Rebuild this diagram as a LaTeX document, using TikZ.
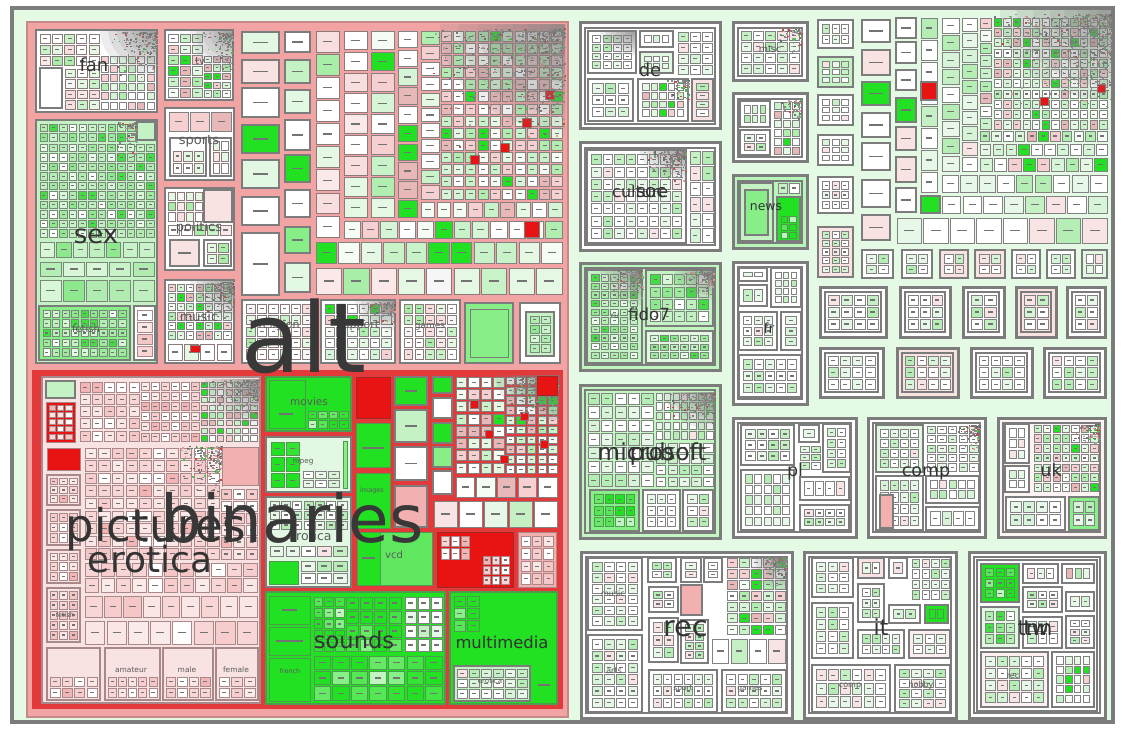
\documentclass[tikz,border=0pt]{standalone}
\usepackage{fontspec}
\setmainfont{DejaVu Sans}
\definecolor{bgG}{HTML}{E4FAE4}
\definecolor{frameG}{HTML}{7C7C7C}
\definecolor{altP}{HTML}{F2A4A4}
\definecolor{altE}{HTML}{C88888}
\definecolor{binR}{HTML}{E23A3A}
\definecolor{txt}{HTML}{333333}
\definecolor{txtL}{HTML}{5A5A5A}
\definecolor{Gb}{HTML}{22E022}
\definecolor{Gm}{HTML}{88EE88}
\definecolor{Gl}{HTML}{C4F2C4}
\definecolor{Gvl}{HTML}{E2F8E2}
\definecolor{Pl}{HTML}{F9E2E2}
\definecolor{Pm}{HTML}{F2B0B0}
\definecolor{Rd}{HTML}{E81414}
% palette a : alt, mixed pale
\definecolor{a0}{HTML}{FFFFFF}\definecolor{a1}{HTML}{FFFFFF}\definecolor{a2}{HTML}{E4F8E4}
\definecolor{a3}{HTML}{C8F2C8}\definecolor{a4}{HTML}{F8DEDE}\definecolor{a5}{HTML}{FFFFFF}
\definecolor{a6}{HTML}{A8EEA8}\definecolor{a7}{HTML}{F6F6F6}\definecolor{a8}{HTML}{E4F8E4}
\definecolor{a9}{HTML}{FBE8E8}\definecolor{aB}{HTML}{8A7A7A}
% palette s : green
\definecolor{s0}{HTML}{C8F2C8}\definecolor{s1}{HTML}{B4EEB4}\definecolor{s2}{HTML}{A0EAA0}
\definecolor{s3}{HTML}{D8F6D8}\definecolor{s4}{HTML}{C0F0C0}\definecolor{s5}{HTML}{8EE88E}
\definecolor{s6}{HTML}{44DD44}\definecolor{s7}{HTML}{E8FAE8}\definecolor{s8}{HTML}{B0ECB0}
\definecolor{s9}{HTML}{FFFFFF}\definecolor{sB}{HTML}{7A8A7A}
% palette p : pink
\definecolor{p0}{HTML}{FBE6E6}\definecolor{p1}{HTML}{F8D6D6}\definecolor{p2}{HTML}{FFFFFF}
\definecolor{p3}{HTML}{F4C6C6}\definecolor{p4}{HTML}{FBE6E6}\definecolor{p5}{HTML}{F8D6D6}
\definecolor{p6}{HTML}{F2B4B4}\definecolor{p7}{HTML}{FFFFFF}\definecolor{p8}{HTML}{FBEAEA}
\definecolor{p9}{HTML}{F6CCCC}\definecolor{pB}{HTML}{A88888}
% palette r : right side pale
\definecolor{r0}{HTML}{FFFFFF}\definecolor{r1}{HTML}{FFFFFF}\definecolor{r2}{HTML}{E8F8E8}
\definecolor{r3}{HTML}{D8F4D8}\definecolor{r4}{HTML}{FFFFFF}\definecolor{r5}{HTML}{F8E4E4}
\definecolor{r6}{HTML}{C4F0C4}\definecolor{r7}{HTML}{FFFFFF}\definecolor{r8}{HTML}{E8F8E8}
\definecolor{r9}{HTML}{B4EEB4}\definecolor{rB}{HTML}{828282}
% palette g : bright green
\definecolor{g0}{HTML}{22E022}\definecolor{g1}{HTML}{33E433}\definecolor{g2}{HTML}{55E855}
\definecolor{g3}{HTML}{22E022}\definecolor{g4}{HTML}{88F088}\definecolor{g5}{HTML}{22E022}
\definecolor{g6}{HTML}{C0F4C0}\definecolor{g7}{HTML}{22E022}\definecolor{g8}{HTML}{44E444}
\definecolor{g9}{HTML}{66EA66}\definecolor{gB}{HTML}{4E9A4E}
% palette m : mixed
\definecolor{m0}{HTML}{FFFFFF}\definecolor{m1}{HTML}{D6F4D6}\definecolor{m2}{HTML}{22E022}
\definecolor{m3}{HTML}{F6D0D0}\definecolor{m4}{HTML}{F4FCF4}\definecolor{m5}{HTML}{B0EEB0}
\definecolor{m6}{HTML}{E8B8B8}\definecolor{m7}{HTML}{FFFFFF}\definecolor{m8}{HTML}{E4F8E4}
\definecolor{m9}{HTML}{C8F2C8}\definecolor{mB}{HTML}{828282}
% noise
\definecolor{n0}{HTML}{777777}\definecolor{n1}{HTML}{888888}\definecolor{n2}{HTML}{999999}
\definecolor{n3}{HTML}{777777}\definecolor{n4}{HTML}{AAAAAA}\definecolor{n5}{HTML}{44CC44}
\definecolor{n6}{HTML}{CC4444}\definecolor{n7}{HTML}{888888}\definecolor{n8}{HTML}{EE9999}
\definecolor{n9}{HTML}{666666}

% one cell: x y w h palette
\newcommand\cb[5]{%
  \pgfmathrandominteger{\rr}{0}{9}%
  \colorlet{cc}{#5\rr}%
  \draw[draw=#5B,line width=0.7pt,fill=cc] ({#1},{#2}) rectangle ({(#1)+(#3)},{(#2)+(#4)});%
  \pgfmathtruncatemacro\dd{and((#3)>7,(#4)>6)}%
  \ifnum\dd=1 \draw[dk] ({(#1)+0.3*(#3)},{(#2)+0.5*(#4)}) -- ({(#1)+0.7*(#3)},{(#2)+0.5*(#4)});\fi}
% grid of cells: x1 y1 x2 y2 step palette
\newcommand\fg[6]{%
  \pgfmathtruncatemacro\nx{max(1,round(((#3)-(#1))/(#5)))}%
  \pgfmathtruncatemacro\ny{max(1,round(((#4)-(#2))/(#5)))}%
  \pgfmathsetmacro\sx{((#3)-(#1))/\nx}%
  \pgfmathsetmacro\sy{((#4)-(#2))/\ny}%
  \pgfmathsetmacro\ox{#1}\pgfmathsetmacro\oy{#2}%
  \foreach \i in {1,...,\nx}{\foreach \j in {1,...,\ny}{%
    \cb{\ox+(\i-1)*\sx+1.1}{\oy+(\j-1)*\sy+1.1}{\sx-2.2}{\sy-2.2}{#6}}}}
% noise specks, dense towards the upper right
\newcommand\nz[5]{%
  \foreach \k in {1,...,#5}{%
    \pgfmathsetmacro\px{(#3)-((#3)-(#1))*rnd*rnd}%
    \pgfmathsetmacro\py{(#2)+((#4)-(#2))*rnd*rnd}%
    \pgfmathrandominteger{\rr}{0}{9}%
    \colorlet{cc}{n\rr}%
    \fill[cc] (\px,\py) rectangle ++(1.8,1.4);}}
% gray haze in the upper right corner of a box: x1 y1 x2 y2
\newcommand\hz[4]{%
  \begin{scope}
  \clip (#1,#2) rectangle (#3,#4);
  \foreach \t in {1,0.85,0.7,0.55,0.42,0.3,0.2,0.12}{%
    \fill[gray,opacity=0.14] (#3,#2) ellipse [x radius={((#3)-(#1))*\t}, y radius={((#4)-(#2))*\t}];}
  \end{scope}}
% framed box with grid inside
\newcommand\bx[7]{\draw[kid,fill=#5] (#1,#2) rectangle (#3,#4);
  \fg{(#1)+3.5}{(#2)+3.5}{(#3)-3.5}{(#4)-3.5}{#6}{#7}}
% top level group with double frame
\newcommand\grp[5]{\draw[grpo,fill=#5] (#1,#2) rectangle (#3,#4);
  \draw[draw=frameG,line width=1.4pt] ({(#1)+5},{(#2)+5}) rectangle ({(#3)-5},{(#4)-5});}

\begin{document}
\begin{tikzpicture}[x=1pt,y=-1pt,
  lbl/.style={text=txt,inner sep=0pt,anchor=base},
  sml/.style={text=txtL,inner sep=0pt,anchor=base},
  kid/.style={draw=frameG,line width=1.6pt},
  grpo/.style={draw=frameG,line width=3pt},
  dk/.style={draw=black!55,line width=1.1pt}]
\pgfmathsetseed{11}
\useasboundingbox (0,0) rectangle (1123,730);
\fill[white] (0,0) rectangle (1123,730);
\draw[fill=bgG,draw=frameG,line width=3.5pt] (12,8) rectangle (1113,722);

%% ================= ALT =================
\draw[fill=altP,draw=altE,line width=2pt] (27,22) rectangle (568,717);

% fan
\draw[kid,fill=white] (36,30) rectangle (157,112);
\fg{39}{33}{100}{66}{13}{a}
\draw[kid,fill=white] (40,68) rectangle (62,108);
\fg{64}{68}{100}{110}{12}{a}
\fg{100}{55}{155}{110}{9}{m}
\nz{100}{32}{156}{80}{160}
\hz{100}{31}{156}{75}
% sex
\draw[kid,fill=Gl] (36,120) rectangle (157,363);
\fg{39}{123}{136}{142}{10}{s}
\draw[kid,fill=Gl] (137,122) rectangle (155,140);
\fg{39}{143}{155}{238}{10}{s}
\nz{110}{122}{136}{160}{60}
\fg{39}{241}{155}{258}{17}{s}
\fg{39}{261}{155}{277}{23}{s}
\fg{39}{279}{155}{302}{24}{s}
\draw[kid,fill=Gm] (39,306) rectangle (130,360);
\fg{42}{309}{127}{357}{9}{s}
\draw[kid,fill=white] (134,306) rectangle (155,360);
\fg{136}{309}{153}{357}{12}{p}
% tv
\draw[kid,fill=white] (165,30) rectangle (233,100);
\fg{167}{33}{203}{98}{11}{m}
\fg{203}{55}{231}{98}{9}{m}
\nz{200}{32}{232}{70}{100}
\hz{190}{31}{232}{70}
% sports
\draw[kid,fill=white] (165,108) rectangle (234,180);
\fg{168}{111}{232}{132}{21}{m}
\draw[kid,fill=white] (170,138) rectangle (206,176);
\fg{172}{150}{204}{174}{11}{a}
\draw[kid,fill=white] (210,138) rectangle (231,176);
\fg{212}{140}{229}{174}{11}{a}
% politics
\draw[kid,fill=white] (165,188) rectangle (234,270);
\fg{167}{191}{203}{222}{10}{a}
\draw[kid,fill=Pl] (204,190) rectangle (232,222);
\fg{167}{224}{232}{236}{13}{a}
\draw[kid,fill=Pl] (170,240) rectangle (199,266);
\draw[dk] (178,253) -- (191,253);
\draw[kid,fill=white] (204,240) rectangle (231,266);
\fg{206}{242}{229}{264}{11}{a}
% music
\draw[kid,fill=white] (165,280) rectangle (234,363);
\fg{167}{283}{232}{340}{9}{m}
\fg{167}{343}{232}{361}{16}{a}
\draw[draw=aB,fill=Rd] (190,345) rectangle (200,352);
\nz{195}{282}{233}{320}{120}
\hz{190}{281}{233}{320}

% grid columns of alt
\foreach \ya/\yb/\cc in {32/53/Gvl,60/83/Pl,88/117/white,125/153/Gb,160/188/Gvl,197/225/white,233/295/white}{
  \draw[kid,fill=\cc] (242,\ya) rectangle (279,\yb);
  \draw[dk] (253,{(\ya+\yb)/2}) -- (268,{(\ya+\yb)/2});}
\foreach \ya/\yb/\cc in {32/52/white,60/83/Gl,90/113/Gvl,120/150/white,155/182/Gb,190/217/white,227/253/Gm,263/292/Gvl}{
  \draw[kid,fill=\cc] (285,\ya) rectangle (310,\yb);
  \draw[dk] (292,{(\ya+\yb)/2}) -- (303,{(\ya+\yb)/2});}
\fg{315}{30}{340}{238}{24}{a}
\fg{343}{30}{368}{218}{22}{a}
\fg{370}{30}{395}{218}{20}{m}
\fg{397}{30}{418}{218}{18}{m}
\fg{420}{30}{440}{200}{16}{m}
\fg{440}{30}{563}{200}{12}{m}
\foreach \cx/\cy in {500/143,470/155,522/118,545/90}{
  \draw[draw=aB,fill=Rd] (\cx,\cy) rectangle ++(9,9);}
\nz{420}{28}{564}{150}{450}
\hz{440}{25}{565}{130}
\fg{420}{201}{563}{218}{16}{m}
\fg{343}{220}{563}{239}{19}{m}
\draw[draw=aB,fill=Rd] (524,221) rectangle (539,237);
\fg{315}{241}{563}{264}{22}{m}
\fg{315}{267}{563}{295}{27}{a}
% bottom row of alt
\draw[kid,fill=white] (242,300) rectangle (316,363);
\fg{245}{303}{313}{360}{12}{a}
\draw[kid,fill=white] (321,300) rectangle (395,363);
\fg{324}{303}{392}{360}{11}{m}
\nz{360}{302}{394}{330}{100}
\hz{355}{301}{394}{330}
\draw[kid,fill=white] (400,300) rectangle (460,363);
\fg{403}{303}{457}{360}{12}{a}
\draw[kid,fill=Gm] (465,303) rectangle (513,363);
\draw[draw=frameG,line width=1pt] (470,309) rectangle (508,357);
\draw[kid,fill=white] (520,303) rectangle (560,363);
\draw[kid,fill=Gl] (526,312) rectangle (554,356);
\fg{529}{315}{551}{353}{9}{s}

%% ================= BINARIES =================
\draw[draw=binR,line width=4pt,fill=binR] (34,372) rectangle (561,707);
% pictures / erotica area
\draw[draw=pB,line width=1.5pt,fill=Pl] (42,377) rectangle (260,703);
\draw[kid,fill=Gl] (46,381) rectangle (75,398);
\draw[draw=pB,line width=1pt,fill=Rd] (46,402) rectangle (75,442);
\fg{48}{404}{73}{440}{8}{p}
\fg{79}{381}{140}{442}{13}{p}
\fg{140}{381}{200}{442}{10}{p}
\fg{200}{381}{258}{442}{8}{m}
\nz{200}{380}{258}{420}{150}
\hz{205}{379}{259}{425}
\draw[draw=pB,line width=1pt,fill=Rd] (47,448) rectangle (80,470);
\foreach \ya/\yb in {475/505,510/545,550/583,588/642}{
  \draw[draw=pB,line width=1.2pt,fill=Pl] (47,\ya) rectangle (80,\yb);
  \fg{49}{\ya+2}{78}{\yb-2}{10}{p}}
\fg{84}{447}{220}{560}{13}{p}
\fg{220}{488}{258}{560}{12}{p}
\nz{175}{446}{222}{500}{180}
\draw[draw=pB,line width=1pt,fill=Pm] (222,447) rectangle (258,485);
\fg{84}{562}{258}{593}{16}{p}
\fg{84}{595}{258}{618}{19}{p}
\fg{84}{620}{258}{645}{22}{p}
\foreach \xa/\xb in {47/100,105/160,163/213,216/258}{
  \draw[draw=pB,line width=1.2pt,fill=Pl] (\xa,648) rectangle (\xb,700);
  \fg{\xa+2}{676}{\xb-2}{698}{11}{p}}
% movies
\draw[draw=gB,line width=1.2pt,fill=Gb] (266,377) rectangle (351,431);
\draw[draw=gB,line width=0.8pt,fill=Gb] (269,380) rectangle (305,428);
\draw[dk] (279,414) -- (293,414);
\fg{307}{410}{349}{429}{10}{g}
% mpeg
\draw[kid,fill=Gvl] (266,437) rectangle (351,492);
\fg{270}{441}{300}{488}{14}{g}
\fg{302}{470}{340}{488}{12}{r}
\draw[draw=gB,fill=Gm] (343,441) rectangle (347,488);
% erotica (binaries)
\draw[kid,fill=Gvl] (266,497) rectangle (351,587);
\fg{269}{500}{348}{530}{12}{r}
\fg{269}{545}{348}{557}{15}{r}
\draw[draw=gB,line width=1pt,fill=Gb] (269,561) rectangle (298,584);
\fg{300}{560}{348}{584}{16}{r}
% red / green column
\draw[draw=binR!70!black,fill=Rd] (356,377) rectangle (390,418);
\draw[draw=gB,fill=Gb] (356,423) rectangle (390,467);
\draw[draw=gB,fill=Gb] (356,473) rectangle (390,528);
\draw[dk] (362,448) -- (384,448);
% vcd
\draw[draw=gB,fill=Gm!60!Gb] (357,532) rectangle (432,585);
\draw[draw=gB,fill=Gb] (357,532) rectangle (380,585);
\draw[dk] (362,558) -- (375,558);
% column of boxes
\foreach \ya/\yb/\cc in {377/405/Gb,410/442/Gl,447/480/white,486/527/Pm}{
  \draw[kid,fill=\cc] (395,\ya) rectangle (427,\yb);
  \draw[dk] (405,{(\ya+\yb)/2}) -- (417,{(\ya+\yb)/2});}
\foreach \ya/\yb/\cc in {377/393/Gb,398/418/white,423/443/Gb,447/467/Gm,471/494/white}{
  \draw[kid,fill=\cc] (433,\ya) rectangle (452,\yb);}
\fg{455}{376}{505}{474}{12}{m}
\fg{505}{376}{558}{474}{10}{m}
\foreach \cx/\cy in {470/400,485/430,520/412,540/440,500/455}{
  \draw[draw=aB,fill=Rd] (\cx,\cy) rectangle ++(8,8);}
\nz{490}{376}{558}{420}{200}
\hz{495}{375}{559}{420}
\draw[draw=binR!70!black,fill=Rd] (537,376) rectangle (557,395);
\fg{455}{476}{558}{498}{20}{m}
\fg{433}{500}{558}{528}{25}{r}
% red block and pink block
\draw[draw=binR!70!black,line width=1pt,fill=Rd] (437,532) rectangle (513,587);
\fg{440}{535}{470}{560}{12}{p}
\fg{482}{555}{510}{585}{10}{p}
\draw[draw=pB,line width=1pt,fill=Pm] (518,532) rectangle (556,587);
\fg{520}{535}{554}{585}{13}{p}
% sounds
\draw[draw=gB,line width=1.2pt,fill=Gb] (266,592) rectangle (445,704);
\draw[draw=gB,fill=Gb] (269,596) rectangle (310,624);
\draw[dk] (282,610) -- (297,610);
\draw[draw=gB,fill=Gb] (269,627) rectangle (310,655);
\draw[dk] (276,641) -- (303,641);
\draw[draw=gB,fill=Gb] (269,658) rectangle (310,701);
\fg{313}{596}{345}{652}{12}{g}
\fg{345}{596}{402}{652}{14}{g}
\fg{404}{596}{443}{652}{13}{r}
\fg{313}{655}{443}{701}{18}{g}
% multimedia
\draw[draw=gB,line width=1.2pt,fill=Gb] (450,592) rectangle (557,704);
\fg{453}{595}{480}{632}{12}{g}
\draw[kid,fill=Gl] (454,666) rectangle (530,701);
\fg{456}{668}{528}{699}{12}{r}
\draw[dk] (538,685) -- (550,685);

%% ================= RIGHT SIDE =================
% de
\grp{580}{23}{720}{129}{white}
\bx{588}{31}{636}{73}{white}{10}{r}
\bx{640}{31}{673}{47}{white}{8}{r}
\bx{640}{52}{673}{73}{Gvl}{9}{r}
\fg{677}{31}{713}{75}{12}{r}
\bx{588}{79}{633}{121}{white}{11}{r}
\bx{638}{79}{688}{121}{white}{9}{m}
\nz{660}{80}{688}{105}{80}
\bx{692}{79}{713}{121}{Pl}{10}{r}
\hz{600}{32}{636}{55}
% misc
\grp{733}{23}{807}{81}{white}
\fg{740}{30}{800}{74}{11}{r}
\nz{770}{29}{801}{55}{60}
\grp{733}{94}{807}{162}{white}
\bx{740}{101}{770}{127}{white}{8}{r}
\fg{773}{101}{800}{155}{9}{m}
\bx{740}{130}{770}{155}{white}{10}{r}
\nz{775}{100}{800}{125}{60}
% soc / culture
\grp{580}{143}{720}{250}{white}
\bx{587}{150}{686}{243}{white}{12}{r}
\nz{640}{151}{685}{185}{160}
\hz{640}{150}{686}{180}
\fg{689}{150}{714}{243}{16}{r}
% news
\grp{733}{176}{807}{248}{Gm!60!white}
\draw[kid,fill=Gl] (740,183) rectangle (773,241);
\draw[kid,fill=Gm] (745,190) rectangle (768,235);
\draw[kid,fill=Gb] (777,197) rectangle (800,241);
\fg{780}{215}{797}{239}{8}{g}
\fg{777}{182}{800}{194}{10}{r}
% fido7
\grp{580}{263}{720}{370}{Gm!55!white}
\bx{587}{270}{642}{363}{Gl}{9}{s}
\nz{605}{271}{642}{300}{120}
\hz{600}{270}{642}{305}
\bx{646}{270}{713}{326}{Gl}{11}{s}
\nz{680}{271}{713}{300}{100}
\hz{675}{270}{713}{300}
\bx{646}{331}{713}{363}{Gvl}{10}{s}
% fr
\grp{733}{262}{807}{404}{white}
\bx{739}{268}{767}{281}{white}{14}{r}
\bx{739}{285}{767}{306}{white}{10}{r}
\bx{771}{268}{801}{307}{white}{9}{r}
\bx{739}{312}{777}{350}{white}{10}{r}
\bx{781}{312}{801}{350}{white}{9}{r}
\bx{739}{355}{801}{397}{white}{11}{r}
% microsoft / pub
\grp{580}{385}{720}{538}{Gm!50!white}
\fg{587}{392}{654}{487}{14}{r}
\fg{655}{392}{714}{440}{9}{r}
\nz{660}{393}{714}{425}{150}
\hz{665}{392}{714}{430}
\fg{655}{442}{714}{487}{12}{r}
\bx{590}{490}{639}{531}{Gm}{12}{g}
\bx{643}{490}{680}{531}{white}{11}{r}
\bx{683}{490}{713}{531}{white}{10}{r}
% pl
\grp{733}{418}{856}{537}{white}
\bx{741}{425}{794}{465}{white}{11}{r}
\bx{799}{425}{819}{442}{white}{10}{r}
\fg{799}{445}{821}{470}{10}{r}
\bx{823}{424}{850}{472}{white}{10}{r}
\bx{741}{470}{794}{530}{white}{10}{r}
\bx{800}{477}{849}{500}{white}{11}{r}
\bx{800}{505}{849}{530}{white}{11}{r}
% comp
\grp{868}{418}{985}{537}{white}
\bx{876}{425}{923}{472}{Gvl}{10}{r}
\fg{926}{425}{979}{472}{10}{r}
\nz{950}{425}{979}{450}{80}
\bx{876}{476}{923}{530}{white}{11}{r}
\draw[kid,fill=Pm] (880,495) rectangle (893,528);
\bx{926}{476}{979}{503}{white}{10}{r}
\bx{926}{507}{979}{530}{white}{11}{r}
% uk
\grp{998}{418}{1105}{537}{Pl!40!white}
\bx{1005}{424}{1029}{463}{white}{10}{r}
\bx{1005}{466}{1029}{492}{white}{10}{r}
\fg{1033}{424}{1099}{492}{10}{m}
\nz{1070}{424}{1099}{450}{80}
\bx{1006}{497}{1065}{530}{white}{12}{r}
\bx{1069}{497}{1099}{530}{Gm}{11}{r}
% rec
\grp{581}{552}{792}{718}{white}
\bx{588}{558}{642}{630}{white}{11}{r}
\bx{588}{635}{642}{712}{white}{11}{r}
\bx{648}{558}{676}{582}{white}{10}{r}
\bx{681}{558}{701}{582}{white}{9}{r}
\bx{704}{558}{722}{582}{white}{9}{r}
\fg{726}{557}{786}{635}{12}{m}
\nz{755}{557}{786}{590}{100}
\hz{750}{557}{786}{590}
\bx{649}{587}{678}{612}{white}{9}{r}
\draw[kid,fill=Pm] (681,585) rectangle (702,615);
\bx{649}{618}{678}{662}{white}{11}{r}
\bx{681}{620}{708}{663}{white}{10}{r}
\fg{711}{638}{786}{664}{19}{r}
\bx{649}{670}{717}{712}{white}{11}{r}
\bx{722}{670}{786}{712}{white}{11}{r}
% it
\grp{804}{552}{956}{718}{white}
\bx{812}{558}{853}{597}{white}{10}{r}
\bx{858}{558}{884}{578}{Pl}{10}{r}
\bx{889}{558}{907}{578}{white}{9}{r}
\fg{911}{558}{950}{600}{10}{r}
\bx{858}{584}{884}{622}{white}{11}{r}
\bx{889}{605}{920}{623}{white}{10}{r}
\bx{925}{605}{948}{623}{Gb}{10}{g}
\bx{812}{603}{853}{658}{white}{11}{r}
\bx{858}{630}{904}{658}{white}{11}{r}
\bx{909}{630}{950}{658}{Pl!60!white}{11}{r}
\bx{812}{665}{890}{712}{white}{12}{r}
\bx{895}{665}{950}{712}{white}{11}{r}
% tw / tnn
\grp{969}{552}{1105}{718}{white}
\draw[kid] (977,560) rectangle (1097,711);
\bx{981}{564}{1019}{602}{Gb}{12}{g}
\bx{1023}{564}{1058}{583}{white}{10}{r}
\bx{1062}{564}{1094}{583}{white}{10}{m}
\bx{1023}{587}{1062}{612}{white}{10}{r}
\bx{1066}{592}{1094}{611}{white}{10}{r}
\bx{981}{607}{1019}{648}{Gvl}{10}{s}
\bx{1023}{617}{1062}{648}{white}{12}{r}
\bx{1066}{616}{1094}{648}{white}{10}{r}
\bx{981}{652}{1048}{707}{Pl!50!white}{11}{r}
\bx{1052}{652}{1094}{707}{white}{10}{m}

% upper right field of small groups
\foreach \ya/\yb/\cc in {20/48/white,57/87/Gl,95/125/white,135/165/white,177/213/white,227/277/Pl}{
  \bx{818}{\ya}{853}{\yb}{\cc}{9}{r}}
\foreach \ya/\yb/\cc in {20/42/white,50/75/Pl,82/105/Gb,113/137/white,143/170/white,180/207/white,215/240/Pl}{
  \draw[kid,fill=\cc] (862,\ya) rectangle (890,\yb);
  \draw[dk] (869,{(\ya+\yb)/2}) -- (883,{(\ya+\yb)/2});}
\foreach \ya/\yb/\cc in {18/38/white,42/63/white,70/90/white,98/122/Gb,127/150/Pl,157/182/Pl,188/212/white}{
  \draw[kid,fill=\cc] (896,\ya) rectangle (916,\yb);
  \draw[dk] (901,{(\ya+\yb)/2}) -- (911,{(\ya+\yb)/2});}
\fg{920}{17}{938}{193}{22}{r}
\draw[kid,fill=Rd] (921,82) rectangle (937,100);
\fg{941}{17}{960}{172}{17}{r}
\fg{961}{17}{978}{172}{16}{r}
\fg{979}{17}{992}{130}{12}{m}
\fg{993}{17}{1108}{130}{10}{m}
\fg{979}{130}{1108}{142}{12}{m}
\fg{979}{143}{1108}{156}{13}{m}
\fg{979}{157}{1108}{172}{14}{m}
\fg{941}{174}{1108}{193}{18}{r}
\draw[draw=aB,fill=Rd] (1040,97) rectangle ++(8,8);
\draw[draw=aB,fill=Rd] (1097,84) rectangle ++(8,8);
\nz{990}{14}{1110}{120}{450}
\hz{1000}{11}{1111}{100}
\fg{920}{195}{1108}{214}{22}{r}
\draw[kid,fill=Gb] (921,196) rectangle (940,213);
\fg{896}{217}{1108}{244}{27}{r}
\foreach \xa/\xb/\cc in {862/893/white,902/932/white,940/968/Pl,975/1005/Pl,1012/1040/white,1047/1075/white,1082/1107/Gvl}{
  \bx{\xa}{250}{\xb}{278}{\cc}{10}{r}}
\foreach \xa/\xb/\cc in {820/886/white,900/950/white,963/1004/white,1016/1056/Pl,1067/1105/white}{
  \grp{\xa}{287}{\xb}{337}{\cc}
  \fg{\xa+7}{294}{\xb-7}{330}{12}{r}}
\foreach \xa/\xb/\cc in {820/883/white,897/958/Pl,971/1032/white,1044/1105/white}{
  \grp{\xa}{348}{\xb}{397}{\cc}
  \fg{\xa+7}{355}{\xb-7}{390}{12}{r}}

%% ================= LABELS =================
\node[sml,font=\fontsize{18}{18}\selectfont,text=txt] (lfan) at (94,72) {fan};
\node[sml,font=\fontsize{10}{10}\selectfont] (ltv) at (200,65) {tv};
\node[sml,font=\fontsize{13}{13}\selectfont] (lsports) at (199,145) {sports};
\node[sml,font=\fontsize{13}{13}\selectfont] (lpolitics) at (199,231) {politics};
\node[sml,font=\fontsize{13}{13}\selectfont] (lmusic) at (199,321) {music};
\node[lbl,font=\fontsize{26}{26}\selectfont] (lsex) at (96,243) {sex};
\node[sml,font=\fontsize{10}{10}\selectfont] (lfetish) at (86,332) {fetish};
\node[sml,font=\fontsize{11}{11}\selectfont] (lreligion) at (279,328) {religion};
\node[sml,font=\fontsize{11}{11}\selectfont] (lsupport) at (358,328) {support};
\node[sml,font=\fontsize{9}{9}\selectfont] (lgames) at (430,328) {games};

\node[sml,font=\fontsize{10.5}{10.5}\selectfont] (lmovies) at (309,405) {movies};
\node[sml,font=\fontsize{7.3}{7.3}\selectfont] (lmpeg) at (303,463) {mpeg};
\node[sml,font=\fontsize{12.5}{12.5}\selectfont] (lerob) at (310,540) {erotica};
\node[sml,font=\fontsize{6.5}{6.5}\selectfont] (limages) at (372,492) {images};
\node[sml,font=\fontsize{10}{10}\selectfont] (lvcd) at (394,558) {vcd};
\node[sml,font=\fontsize{6.5}{6.5}\selectfont] (lfrench) at (290,673) {french};
\node[sml,font=\fontsize{7}{7}\selectfont] (lerom) at (490,683) {erotica};
\node[lbl,font=\fontsize{22.5}{22.5}\selectfont] (lsounds) at (354,648) {sounds};
\node[lbl,font=\fontsize{16.4}{16.4}\selectfont] (lmulti) at (502,648) {multimedia};
\node[sml,font=\fontsize{6.5}{6.5}\selectfont] (lfetish2) at (65,617) {fetish};
\node[sml,font=\fontsize{7.5}{7.5}\selectfont] (lamateur) at (131,672) {amateur};
\node[sml,font=\fontsize{7.5}{7.5}\selectfont] (lmale) at (187,672) {male};
\node[sml,font=\fontsize{7.5}{7.5}\selectfont] (lfemale) at (236,672) {female};
\node[lbl,font=\fontsize{45}{45}\selectfont] (lpictures) at (156,541) {pictures};
\node[lbl,font=\fontsize{36}{36}\selectfont] (lerotica) at (150,572) {erotica};
\node[lbl,font=\fontsize{66}{66}\selectfont,text=black!78] (lbinaries) at (292,542) {binaries};
\node[lbl,font=\fontsize{97}{97}\selectfont,text=black!78] (lalt) at (304,372) {alt};

\node[lbl,font=\fontsize{18}{18}\selectfont] (lde) at (650,77) {de};
\node[sml,font=\fontsize{9.5}{9.5}\selectfont] (lmisc) at (770,53) {misc};
\node[lbl,font=\fontsize{16}{16}\selectfont,anchor=base west] (lculture) at (612,197) {culture};
\node[lbl,font=\fontsize{18}{18}\selectfont] (lsoc) at (651,197) {soc};
\node[lbl,font=\fontsize{12.4}{12.4}\selectfont] (lnews) at (766,210) {news};
\node[sml,font=\fontsize{8}{8}\selectfont] (lru) at (615,318) {ru};
\node[lbl,font=\fontsize{16.7}{16.7}\selectfont] (lfido) at (649,320) {fido7};
\node[lbl,font=\fontsize{14}{14}\selectfont] (lfr) at (769,333) {fr};
\node[lbl,font=\fontsize{23.4}{23.4}\selectfont] (lms) at (652,460) {microsoft};
\node[lbl,font=\fontsize{23.4}{23.4}\selectfont] (lpub) at (652,460) {pub};
\node[lbl,font=\fontsize{17.5}{17.5}\selectfont] (lpl) at (795,476) {pl};
\node[lbl,font=\fontsize{17.5}{17.5}\selectfont] (lcomp) at (926,476) {comp};
\node[lbl,font=\fontsize{17.5}{17.5}\selectfont] (luk) at (1051,476) {uk};
\node[sml,font=\fontsize{8}{8}\selectfont] (lmusic2) at (613,596) {music};
\node[sml,font=\fontsize{8}{8}\selectfont] (larts) at (614,673) {arts};
\node[sml,font=\fontsize{7.5}{7.5}\selectfont] (lsport) at (683,690) {sport};
\node[sml,font=\fontsize{7.5}{7.5}\selectfont] (lgames2) at (750,690) {games};
\node[lbl,font=\fontsize{28.5}{28.5}\selectfont] (lrec) at (686,636) {rec};
\node[sml,font=\fontsize{8}{8}\selectfont] (lcomp2) at (850,687) {comp};
\node[sml,font=\fontsize{8}{8}\selectfont] (lhobby) at (921,687) {hobby};
\node[lbl,font=\fontsize{22}{22}\selectfont] (lit) at (881,635) {it};
\node[sml,font=\fontsize{8}{8}\selectfont] (lrec2) at (1013,678) {rec};
\node[lbl,font=\fontsize{21}{21}\selectfont] (ltnn) at (1035,635) {tnn};
\node[lbl,font=\fontsize{21}{21}\selectfont] (ltw) at (1036,635) {tw};
\end{tikzpicture}
\end{document}
